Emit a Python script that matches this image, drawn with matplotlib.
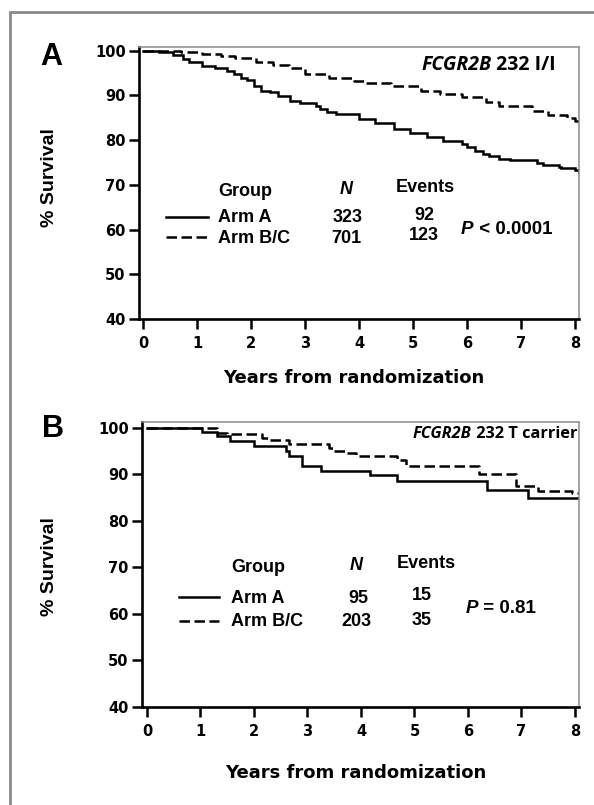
import matplotlib
matplotlib.use('Agg')
import matplotlib.pyplot as plt
from matplotlib.lines import Line2D
from matplotlib.patches import Rectangle

W, H = 594, 805

# ---------------- data ----------------
year_ticks = [0, 1, 2, 3, 4, 5, 6, 7, 8]
surv_ticks = [40, 50, 60, 70, 80, 90, 100]
groups = ["Arm A", "Arm B/C"]

# Panel A: FCGR2B 232 I/I
a_armA_t = [0, 0.3, 0.55, 0.74, 0.86, 1.1, 1.33, 1.56, 1.68, 1.81, 1.93, 2.06, 2.18, 2.36,
            2.5, 2.73, 2.9, 3.2, 3.28, 3.4, 3.58, 4.0, 4.3, 4.64, 4.95, 5.25, 5.56, 5.9,
            6.0, 6.15, 6.3, 6.4, 6.6, 6.8, 7.3, 7.4, 7.7, 7.74, 8.0, 8.07]
a_armA_s = [100, 99.6, 99.0, 98.1, 97.4, 96.6, 96.1, 95.5, 94.9, 94.0, 93.4, 92.2, 91.1, 90.7,
            89.9, 88.8, 88.2, 87.7, 87.0, 86.3, 85.8, 84.7, 83.9, 82.5, 81.5, 80.6, 79.9, 79.1,
            78.4, 77.6, 76.9, 76.5, 75.8, 75.5, 74.9, 74.4, 74.0, 73.8, 73.3, 72.9]
a_armBC_t = [0, 0.35, 0.7, 1.1, 1.45, 1.7, 2.1, 2.4, 2.7, 3.0, 3.45, 3.9, 4.1, 4.6, 5.15,
             5.5, 5.9, 6.35, 6.6, 7.2, 7.5, 7.85, 8.0, 8.07]
a_armBC_s = [100, 99.9, 99.6, 99.3, 98.9, 98.4, 97.4, 96.9, 96.1, 94.9, 94.0, 93.3, 92.7, 92.0,
             91.0, 90.3, 89.7, 88.6, 87.7, 86.6, 85.7, 85.0, 84.3, 84.0]
a_n = [323, 701]
a_events = [92, 123]
a_title_gene = "FCGR2B"
a_title_rest = " 232 I/I"
a_p = ("P", " < 0.0001")

# Panel B: FCGR2B 232 T carrier
b_armA_t = [0, 1.02, 1.3, 1.56, 2.0, 2.6, 2.66, 2.9, 3.26, 4.17, 4.67, 6.35, 7.13, 8.07]
b_armA_s = [100, 99.2, 98.2, 97.1, 96.1, 95.0, 93.9, 91.8, 90.7, 89.8, 88.7, 86.6, 85.0, 85.0]
b_armBC_t = [0, 1.3, 1.5, 2.15, 2.3, 2.65, 3.4, 3.5, 3.7, 3.9, 4.67, 4.85, 6.2, 6.9, 7.3,
             7.95, 8.07]
b_armBC_s = [100, 99.0, 98.7, 97.9, 97.4, 96.6, 95.7, 95.1, 94.6, 93.9, 93.2, 91.8, 90.0,
             87.5, 86.5, 86.0, 86.0]
b_n = [95, 203]
b_events = [15, 35]
b_title_gene = "FCGR2B"
b_title_rest = " 232 T carrier"
b_p = ("P", " = 0.81")

# ---------------- figure ----------------
fig = plt.figure(figsize=(W / 100, H / 100), dpi=100)


def fx(x):
    return x / W


def fy(y):
    return 1 - y / H


# outer grey frame (extends beyond right/bottom edges)
fig.add_artist(Rectangle((fx(10), -0.05), 1.2, fy(12) + 0.05, transform=fig.transFigure,
                         fill=False, edgecolor='#8a8a8a', lw=2.0))

TICKFONT = dict(family='DejaVu Sans', weight='bold', size=10.5)
LEGFONT = ['Liberation Sans', 'DejaVu Sans']
TITLEFONT = ['Open Sans', 'DejaVu Sans']
LW = 1.8


def make_axes(box, xlim, ylim):
    l, r, t, b = box
    ax = fig.add_axes([fx(l), fy(b), fx(r) - fx(l), fy(t) - fy(b)])
    ax.set_xlim(*xlim)
    ax.set_ylim(*ylim)
    ax.set_xticks(year_ticks)
    ax.set_yticks(surv_ticks)
    for sp in ('left', 'bottom'):
        ax.spines[sp].set_linewidth(1.9)
        ax.spines[sp].set_color('black')
    for sp in ('top', 'right'):
        ax.spines[sp].set_linewidth(1.1)
        ax.spines[sp].set_color('#8c8c8c')
    ax.tick_params(axis='both', direction='out', length=7.5, width=1.8, color='black')
    ax.tick_params(axis='x', pad=5)
    ax.tick_params(axis='y', pad=2)
    for lab in ax.get_xticklabels() + ax.get_yticklabels():
        lab.set_fontfamily(TICKFONT['family'])
        lab.set_fontweight(TICKFONT['weight'])
        lab.set_fontsize(TICKFONT['size'])
    return ax


def draw_panel(ax, tA, sA, tB, sB):
    ax.step(tA, sA, where='post', color='black', lw=LW, solid_joinstyle='miter')
    ax.step(tB, sB, where='post', color='black', lw=LW, linestyle=(0, (4.2, 1.8)))


def legend_block(hx, nx, ex, px, rows_y, head_y, line_x, n, ev, p, py, fs=13):
    gx = hx
    fig.text(fx(gx), fy(head_y), "Group", family=LEGFONT, weight='bold', size=fs,
             ha='left', va='center')
    fig.text(fx(nx), fy(head_y - 2), "N", family=LEGFONT, weight='bold', style='italic',
             size=fs, ha='center', va='center')
    fig.text(fx(ex[0]), fy(head_y - 3), "Events", family=LEGFONT, weight='bold', size=fs,
             ha='left', va='center')
    styles = ['-', (0, (4.2, 1.8))]
    for i in range(2):
        y = rows_y[i]
        fig.add_artist(Line2D([fx(line_x[0]), fx(line_x[1])], [fy(y - 1), fy(y - 1)],
                              transform=fig.transFigure, color='black', lw=LW,
                              linestyle=styles[i]))
        fig.text(fx(gx), fy(y), groups[i], family=LEGFONT, weight='bold', size=fs,
                 ha='left', va='center')
        fig.text(fx(nx + (2 if i == 0 else 0)), fy(y), str(n[i]), family=LEGFONT,
                 weight='bold', size=fs, ha='center', va='center')
        fig.text(fx(ex[1]), fy(y - 2), str(ev[i]), family=LEGFONT, weight='bold', size=fs,
                 ha='center', va='center')
    t1 = fig.text(fx(px), fy(py), p[0], family=LEGFONT, weight='bold', style='italic',
                  size=fs + 0.5, ha='left', va='center')
    fig.canvas.draw()
    bb = t1.get_window_extent()
    fig.text(bb.x1 / W, fy(py), p[1], family=LEGFONT, weight='bold', size=fs + 0.5,
             ha='left', va='center')


def gene_title(x_right, y, gene, rest, fs=12.5):
    # right-aligned: draw the plain part first, then the italic gene name to its left
    t2 = fig.text(fx(x_right), fy(y), rest, family=TITLEFONT, weight='bold',
                  size=fs, ha='right', va='center')
    fig.canvas.draw()
    bb = t2.get_window_extent()
    fig.text(bb.x0 / W, fy(y), gene, family=TITLEFONT, weight='bold', style='italic',
             size=fs, ha='right', va='center')


# ---- Panel A ----
axA = make_axes((139, 579, 47, 319), (-0.074, 8.074), (40, 100.83))
draw_panel(axA, a_armA_t, a_armA_s, a_armBC_t, a_armBC_s)
fig.text(fx(51), fy(57), "A", family=LEGFONT, weight='bold', size=22, ha='center',
         va='center')
fig.text(fx(50), fy(178), "% Survival", family=LEGFONT, weight='bold', size=14,
         rotation=90, ha='center', va='center')
fig.text(fx(354), fy(378), "Years from randomization", family='DejaVu Sans', weight='bold',
         size=13, ha='center', va='center')
legend_block(218, 346, (396, 424), 461, (218, 238), 191, (166, 208), a_n, a_events, a_p, 229)
gene_title(556, 65, a_title_gene, a_title_rest, fs=14)

# ---- Panel B ----
axB = make_axes((142, 579, 422, 707), (-0.093, 8.075), (40, 101.29))
draw_panel(axB, b_armA_t, b_armA_s, b_armBC_t, b_armBC_s)
fig.text(fx(53), fy(429), "B", family=LEGFONT, weight='bold', size=22, ha='center',
         va='center')
fig.text(fx(50), fy(567), "% Survival", family=LEGFONT, weight='bold', size=14,
         rotation=90, ha='center', va='center')
fig.text(fx(356), fy(773), "Years from randomization", family='DejaVu Sans', weight='bold',
         size=13, ha='center', va='center')
legend_block(231, 356, (397, 422), 466, (598, 622), 567, (179, 219), b_n, b_events, b_p, 608)
gene_title(577, 434, b_title_gene, b_title_rest, fs=11.8)

fig.savefig('out.png', dpi=100)
